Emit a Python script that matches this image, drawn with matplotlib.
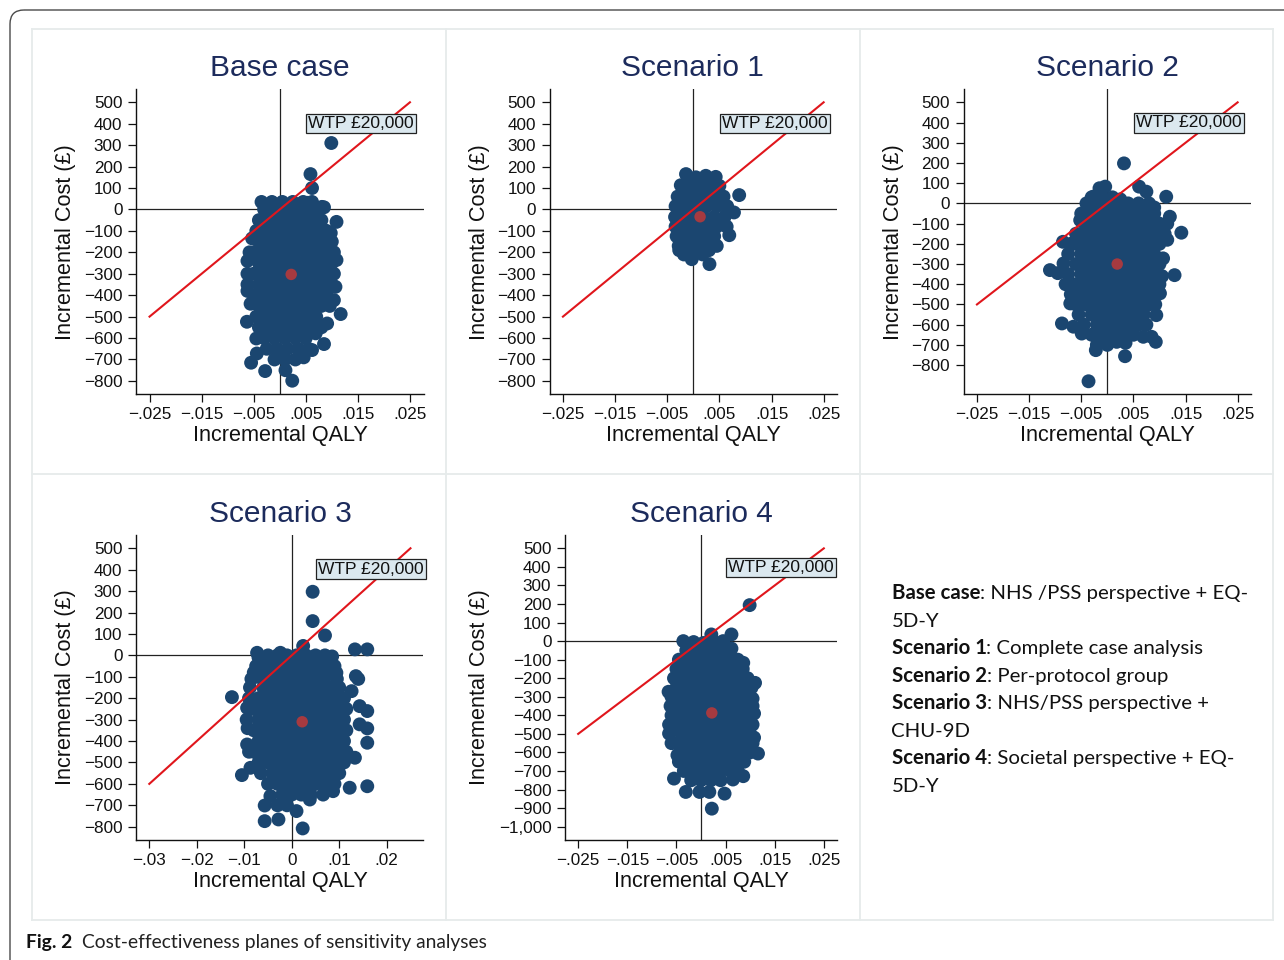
import matplotlib
matplotlib.use("Agg")
import matplotlib.pyplot as plt
from matplotlib.patches import FancyBboxPatch
from matplotlib import font_manager

# ---------------------------------------------------------------- data
titles = ["Base case", "Scenario 1", "Scenario 2", "Scenario 3", "Scenario 4"]

# bootstrap replicates: (incremental QALY in 1/1000, incremental cost in GBP)
base_pts = [
    (9.9, 310), (5.9, 165), (6.2, 100), (5.3, 31), (8.1, 12),
    (-3.5, 35), (-1.5, 35), (0.5, 35), (2.5, 35), (4.5, 35), (6.2, 35),
    (-3, 0), (-1, 0), (1, 0), (3, 0), (5, 0), (7, 0), (8.5, 10),
    (-4, -50), (-2, -50), (0, -50), (2, -50), (4, -50), (6, -50), (8, -50), (10.9, -58),
    (-4.5, -100), (-3, -100), (-1, -100), (1, -100), (3, -100), (5, -100), (7, -100), (9, -100), (9.8, -110),
    (-5.3, -135), (-4, -150), (-2, -150), (0, -150), (2, -150), (4, -150), (6, -150), (8, -150), (10, -150),
    (-5.8, -200), (-5, -200), (-3, -200), (-1, -200), (1, -200), (3, -200), (5, -200), (7, -200), (9, -200), (10.4, -200),
    (-6.2, -240), (-4, -250), (-2, -250), (0, -250), (2, -250), (4, -250), (6, -250), (8, -250), (10, -250), (10.9, -236),
    (-6.2, -300), (-5, -300), (-3, -300), (-1, -300), (1, -300), (3, -300), (5, -300), (7, -300), (9, -300), (10.4, -300),
    (-6.2, -350), (-4, -350), (-2, -350), (0, -350), (2, -350), (4, -350), (6, -350), (8, -350), (10, -350), (10.7, -361),
    (-6.2, -380), (-5, -400), (-3, -400), (-1, -400), (1, -400), (3, -400), (5, -400), (7, -400), (9, -400), (10.4, -423),
    (-5.6, -440), (-4, -450), (-2, -450), (0, -450), (2, -450), (4, -450), (6, -450), (8, -450), (9.6, -450),
    (-4.5, -500), (-3, -500), (-1, -500), (1, -500), (3, -500), (5, -500), (7, -500), (9.1, -532), (11.7, -488), (-6.3, -524),
    (-4, -550), (-2, -550), (0, -550), (2, -550), (4, -550), (6, -550), (8, -550),
    (-4.5, -602), (-3, -600), (-1, -600), (1, -600), (3, -600), (5, -600), (6.9, -578),
    (-2.5, -650), (-0.5, -650), (1.5, -650), (3.5, -650), (5.5, -650), (6.2, -656), (8.5, -628), (-4.4, -672),
    (-1, -700), (1, -700), (3, -700), (4.6, -690), (-0.5, -687), (-5.5, -715),
    (-2.8, -754), (1.1, -750), (2.4, -799),
]

s1_pts = [
    (-1.4, 165), (0.5, 150), (2.4, 157), (4.3, 152),
    (-2.4, 113), (-1, 110), (1, 110), (3, 110), (5, 110),
    (-3, 60), (-2, 60), (0, 60), (2, 60), (4, 60), (5.8, 60), (8.8, 67),
    (-3.4, 15), (-1.5, 15), (0.5, 15), (2.5, 15), (4.5, 15), (6.5, 15),
    (-3.5, -35), (-2, -35), (0, -35), (2, -35), (4, -35), (6, -35), (7.8, -14),
    (-3.4, -80), (-1.5, -80), (0.5, -80), (2.5, -80), (4.5, -80), (6.4, -80),
    (-3.2, -125), (-2, -125), (0, -125), (2, -125), (4, -125), (6.9, -120),
    (-2.8, -170), (-1, -170), (1, -170), (3, -170), (4.5, -170),
    (-2.7, -190), (-1.8, -210), (0, -210), (1.8, -210), (3, -190),
    (-0.3, -232), (3.1, -255),
]

s2_pts = [
    (3.2, 198), (-0.4, 83), (-1.5, 75), (6.1, 83), (7.5, 58), (11.3, 33), (-2.7, 33),
    (-3, 30), (-1, 30), (1, 30), (2.5, 20),
    (-4, 0), (-2, 0), (0, 0), (2, 0), (4, 0), (6, 0), (8, 0), (9, -20),
    (-5, -50), (-3, -50), (-1, -50), (1, -50), (3, -50), (5, -50), (7, -50), (9, -50), (12, -66),
    (-5.2, -83), (-4, -100), (-2, -100), (0, -100), (2, -100), (4, -100), (6, -100), (8, -100), (10, -100), (11.5, -100),
    (-6, -150), (-5, -150), (-3, -150), (-1, -150), (1, -150), (3, -150), (5, -150), (7, -150), (9, -150), (11, -150), (14.2, -145),
    (-8.5, -190), (-7, -200), (-6, -200), (-4, -200), (-2, -200), (0, -200), (2, -200), (4, -200), (6, -200), (8, -200), (10, -200), (11.5, -180),
    (-7.5, -250), (-5, -250), (-3, -250), (-1, -250), (1, -250), (3, -250), (5, -250), (7, -250), (9, -250), (10.7, -272),
    (-8.4, -297), (-6, -300), (-4, -300), (-2, -300), (0, -300), (2, -300), (4, -300), (6, -300), (8, -300), (10, -300),
    (-11, -330), (-9.5, -345), (-7.5, -350), (-5, -350), (-3, -350), (-1, -350), (1, -350), (3, -350), (5, -350), (7, -350), (9, -350), (10.5, -360), (12.9, -355),
    (-8, -400), (-6, -400), (-4, -400), (-2, -400), (0, -400), (2, -400), (4, -400), (6, -400), (8, -400), (10, -400),
    (-7, -450), (-5, -450), (-3, -450), (-1, -450), (1, -450), (3, -450), (5, -450), (7, -450), (9, -450), (10.1, -445),
    (-7.1, -495), (-6, -500), (-4, -500), (-2, -500), (0, -500), (2, -500), (4, -500), (6, -500), (8, -500), (9.2, -500),
    (-5.5, -550), (-3, -550), (-1, -550), (1, -550), (3, -550), (5, -550), (7, -550), (9.4, -553),
    (-8.7, -594), (-6.5, -610), (-4.5, -600), (-2, -600), (0, -600), (2, -600), (4, -600), (6, -600), (7.5, -600),
    (-4.9, -644), (-3, -650), (-1, -650), (1, -650), (3, -650), (5, -650), (6.9, -660), (8.5, -660),
    (-2, -700), (0, -700), (1.8, -685), (3.5, -690), (9.3, -685), (-2.2, -726),
    (3.4, -756), (-3.6, -880),
]

s3_pts = [
    (4.4, 297), (4.4, 160), (7, 93), (2.4, 44), (-7.3, 12), (-2.4, 12), (13.3, 28), (15.9, 28),
    (-7, -10), (-5, 0), (-3, 0), (-1, 0), (1, 0), (3, 0), (5, 0), (7, 0), (8.5, -5),
    (-7.5, -50), (-6, -50), (-4, -50), (-2, -50), (0, -50), (2, -50), (4, -50), (6, -50), (8, -50), (9, -50),
    (-8, -80), (-8.5, -110), (-7, -100), (-5, -100), (-3, -100), (-1, -100), (1, -100), (3, -100), (5, -100), (7, -100),
    (9.4, -81), (9.5, -110), (13.5, -97), (14, -110),
    (-8.8, -150), (-6, -150), (-4, -150), (-2, -150), (0, -150), (2, -150), (4, -150), (6, -150), (8, -150), (10, -150), (12.6, -167),
    (-12.6, -195), (-9, -200), (-7, -200), (-5, -200), (-3, -200), (-1, -200), (1, -200), (3, -200), (5, -200), (7, -200), (9, -200), (11, -200),
    (-9.4, -245), (-8, -250), (-6, -250), (-4, -250), (-2, -250), (0, -250), (2, -250), (4, -250), (6, -250), (8, -250), (10, -250), (11.5, -250), (14.3, -237), (15.9, -260),
    (-9.5, -300), (-7, -300), (-5, -300), (-3, -300), (-1, -300), (1, -300), (3, -300), (5, -300), (7, -300), (9, -300), (11, -300),
    (-9.3, -340), (-8, -350), (-6, -350), (-4, -350), (-2, -350), (0, -350), (2, -350), (4, -350), (6, -350), (8, -350), (10, -350), (11.5, -350), (14.3, -322), (15.9, -341),
    (-9.4, -416), (-7, -400), (-5, -400), (-3, -400), (-1, -400), (1, -400), (3, -400), (5, -400), (7, -400), (9, -400), (11, -400), (15.9, -408),
    (-9, -450), (-8, -450), (-6, -450), (-4, -450), (-2, -450), (0, -450), (2, -450), (4, -450), (6, -450), (8, -450), (10, -450), (11.5, -450), (13.3, -478),
    (-8.7, -525), (-7, -500), (-5, -500), (-3, -500), (-1, -500), (1, -500), (3, -500), (5, -500), (7, -500), (9, -500), (11, -500),
    (-10.5, -559), (-6.5, -550), (-4, -550), (-2, -550), (0, -550), (2, -550), (4, -550), (6, -550), (8, -550), (10, -550),
    (-5, -600), (-3, -600), (-1, -600), (1, -600), (3, -600), (5, -600), (7, -600), (9, -600), (12.2, -618), (15.9, -611), (8.7, -634),
    (-4.5, -657), (-2, -650), (0, -650), (2, -650), (4, -650), (6.6, -650),
    (-5.7, -701), (-3, -700), (-1, -700), (1, -727), (3.8, -673),
    (-2.8, -766), (-5.7, -774), (2.3, -808),
]

s4_pts = [
    (9.9, 194), (2.1, 36), (6.2, 36), (-3.6, 0),
    (-1.5, -5), (0.5, -10), (2.5, 0), (4.5, 0),
    (-3, -50), (-1, -50), (1, -50), (3, -50), (5, -50), (6.2, -40),
    (-4.5, -100), (-2, -100), (0, -100), (2, -100), (4, -100), (6, -100), (7.5, -100), (8.6, -117),
    (-5, -150), (-3, -150), (-1, -150), (1, -150), (3, -150), (5, -150), (7, -150), (8.5, -150),
    (-5.5, -200), (-4, -200), (-2, -200), (0, -200), (2, -200), (4, -200), (6, -200), (8, -200), (9.5, -200), (11, -225),
    (-6.6, -273), (-5, -250), (-3, -250), (-1, -250), (1, -250), (3, -250), (5, -250), (7, -250), (9, -250), (10.3, -250),
    (-6, -300), (-4, -300), (-2, -300), (0, -300), (2, -300), (4, -300), (6, -300), (8, -300), (10, -300), (10.5, -310),
    (-6.2, -350), (-5, -350), (-3, -350), (-1, -350), (1, -350), (3, -350), (5, -350), (7, -350), (9, -350), (10.5, -350),
    (-6, -400), (-4, -400), (-2, -400), (0, -400), (2, -400), (4, -400), (6, -400), (8, -400), (10, -400), (10.8, -390),
    (-6.5, -450), (-5, -450), (-3, -450), (-1, -450), (1, -450), (3, -450), (5, -450), (7, -450), (9, -450), (10.5, -450),
    (-6.5, -498), (-4, -500), (-2, -500), (0, -500), (2, -500), (4, -500), (6, -500), (8, -500), (10, -500), (10.8, -520),
    (-6, -550), (-5, -550), (-3, -550), (-1, -550), (1, -550), (3, -550), (5, -550), (7, -550), (9, -550), (10.5, -550),
    (-4.8, -615), (-4, -600), (-2, -600), (0, -600), (2, -600), (4, -600), (6, -600), (8, -600), (10, -600), (11.6, -606),
    (-4.5, -650), (-3, -650), (-1, -650), (1, -650), (3, -650), (5, -650), (7, -650), (8.8, -650),
    (-3.5, -700), (-2, -700), (0, -700), (2, -700), (4, -700), (6, -700), (7.5, -700),
    (-5.5, -741), (-2, -750), (0, -750), (2, -750), (4, -750), (6.5, -746), (8.6, -728),
    (-3.1, -813), (-0.3, -813), (1.7, -813), (4.8, -822),
    (2.2, -903),
]

# mean incremental QALY (1/1000) and cost per plane
mean_pts = [(2.2, -303), (1.3, -34), (1.9, -300), (2.2, -310), (2.2, -387)]

wtp = 20000
wtp_label = "WTP £20,000"
wtp_line_x = [(-0.025, 0.025), (-0.025, 0.025), (-0.025, 0.025), (-0.03, 0.025), (-0.025, 0.025)]
wtp_label_pos = [(0.0156, 400), (0.0156, 400), (0.0156, 398), (0.0167, 403), (0.0163, 399)]

yticks_std = [500, 400, 300, 200, 100, 0, -100, -200, -300, -400, -500, -600, -700, -800]
yticks_s4 = yticks_std + [-900, -1000]
xticks_std = [-0.025, -0.015, -0.005, 0.005, 0.015, 0.025]
xlabels_std = ["\u2212.025", "\u2212.015", "\u2212.005", ".005", ".015", ".025"]
xticks_s3 = [-0.03, -0.02, -0.01, 0, 0.01, 0.02]
xlabels_s3 = ["\u2212.03", "\u2212.02", "\u2212.01", "0", ".01", ".02"]

legend_lines = [
    ("Base case", ": NHS /PSS perspective + EQ-"),
    ("", "5D-Y"),
    ("Scenario 1", ": Complete case analysis"),
    ("Scenario 2", ": Per-protocol group"),
    ("Scenario 3", ": NHS/PSS perspective +"),
    ("", "CHU-9D"),
    ("Scenario 4", ": Societal perspective + EQ-"),
    ("", "5D-Y"),
]
caption_bold = "Fig. 2"
caption_text = "Cost-effectiveness planes of sensitivity analyses"

all_pts = [base_pts, s1_pts, s2_pts, s3_pts, s4_pts]

# ---------------------------------------------------------------- layout (pixels)
W, H = 1284, 960
panel_px = [  # left, top, right, bottom of plot region
    (136, 89, 424, 394),
    (549.7, 89, 837, 394),
    (963.7, 89, 1251, 394),
    (136, 535, 423.3, 840),
    (565, 535, 837, 840),
]
xlims = [(-0.0276, 0.0277), (-0.02754, 0.02756), (-0.02754, 0.02756), (-0.0328, 0.0277), (-0.02768, 0.02768)]
ylims = [(-861, 562), (-861, 562), (-943, 566), (-862, 562), (-1072, 572)]
title_px = [(280, 68), (692, 68), (1107, 68), (280, 514), (701, 514)]
xlab_px = [(280, 436), (693, 436), (1107, 436), (280, 881), (701, 881)]
ylab_px = [(65, 242), (479, 242), (893, 242), (65, 687), (479, 687)]

def font_available(name):
    try:
        font_manager.findfont(font_manager.FontProperties(family=name), fallback_to_default=False)
        return True
    except Exception:
        return False

STATA = ["Liberation Sans", "DejaVu Sans"]
LEG = ["Lato", "DejaVu Sans"]
CAP = ["Liberation Sans Narrow", "Lato", "DejaVu Sans"] if font_available("Liberation Sans Narrow") else ["Lato", "DejaVu Sans"]

DOT = "#1b4670"
MEAN = "#a63a40"
RED = "#e0161c"
NAVY = "#1c2b5c"

fig = plt.figure(figsize=(W / 100, H / 100), dpi=100)
fig.patch.set_facecolor("white")

bg = fig.add_axes([0, 0, 1, 1], zorder=0)
bg.set_xlim(0, W)
bg.set_ylim(H, 0)
bg.axis("off")

# outer rounded frame (only top and left edge inside the picture)
bg.add_patch(FancyBboxPatch((10, 10), 1400, 1100, boxstyle="round,pad=0,rounding_size=14",
                            fill=False, ec="#4a4a4a", lw=1.0))
# light panel grid
GRID = "#e6ebeb"
for x in (32, 446, 860, 1273):
    bg.plot([x, x], [29, 920], color=GRID, lw=1.3)
for y in (29, 474, 920):
    bg.plot([32, 1273], [y, y], color=GRID, lw=1.3)

for i, pts in enumerate(all_pts):
    l, t, r, b = panel_px[i]
    ax = fig.add_axes([l / W, 1 - b / H, (r - l) / W, (b - t) / H], zorder=2)
    ax.set_facecolor("none")
    ax.set_xlim(*xlims[i])
    ax.set_ylim(*ylims[i])
    for s in ("top", "right"):
        ax.spines[s].set_visible(False)
    for s in ("left", "bottom"):
        ax.spines[s].set_linewidth(1.0)
        ax.spines[s].set_color("#111111")
    ax.axhline(0, color="#222222", lw=0.9, zorder=1)
    ax.axvline(0, color="#222222", lw=0.9, zorder=1)

    xs = [p[0] / 1000 for p in pts]
    ys = [p[1] for p in pts]
    ax.scatter(xs, ys, s=100, color=DOT, edgecolors="none", zorder=2)

    x0, x1 = wtp_line_x[i]
    ax.plot([x0, x1], [wtp * x0, wtp * x1], color=RED, lw=1.5, zorder=3)
    mx, my = mean_pts[i]
    ax.scatter([mx / 1000], [my], s=68, color=MEAN, edgecolors="none", zorder=4)

    lx, ly = wtp_label_pos[i]
    ax.text(lx, ly, wtp_label, ha="center", va="center", fontsize=12.5, family=STATA,
            color="#111111", zorder=5,
            bbox=dict(boxstyle="square,pad=0.12", fc="#dbe8ef", ec="#222222", lw=0.9))

    yt = yticks_s4 if i == 4 else yticks_std
    ax.set_yticks(yt)
    ax.set_yticklabels([f"{v:,}".replace("-", "\u2212") for v in yt], family=STATA)
    if i == 3:
        ax.set_xticks(xticks_s3)
        ax.set_xticklabels(xlabels_s3, family=STATA)
    else:
        ax.set_xticks(xticks_std)
        ax.set_xticklabels(xlabels_std, family=STATA)
    ax.tick_params(axis="both", direction="out", length=5.5, width=0.9, labelsize=12.3,
                   color="#111111", labelcolor="#111111")
    ax.tick_params(axis="y", pad=4.3)
    ax.tick_params(axis="x", pad=4)

    tx, ty = title_px[i]
    bg.text(tx, ty, titles[i], ha="center", va="center", fontsize=21.5, color=NAVY, family=STATA)
    xx, xy = xlab_px[i]
    bg.text(xx, xy, "Incremental QALY", ha="center", va="center", fontsize=15.6, color="#111111", family=STATA)
    yx, yy = ylab_px[i]
    bg.text(yx, yy, "Incremental Cost (£)", ha="center", va="center", rotation=90, fontsize=15.6,
            color="#111111", family=STATA)

# ---------------------------------------------------------------- legend text (fit widths)
renderer = fig.canvas.get_renderer()

def width_px(s, **kw):
    t = bg.text(0, 0, s, **kw)
    w = t.get_window_extent(renderer).width
    t.remove()
    return w

ref_size = 14
w_ref = width_px(legend_lines[0][0], fontsize=ref_size, family=LEG, weight="bold") + \
        width_px(legend_lines[0][1], fontsize=ref_size, family=LEG)
leg_size = ref_size * 358.0 / w_ref
leg_base = [599.3, 626.8, 654.3, 681.8, 709.3, 736.8, 764.3, 791.8]
for (bold, rest), yb in zip(legend_lines, leg_base):
    x = 891.5
    if bold:
        bg.text(x, yb, bold, fontsize=leg_size, family=LEG, weight="bold", va="baseline", ha="left", color="#111111")
        x += width_px(bold, fontsize=leg_size, family=LEG, weight="bold")
    bg.text(x, yb, rest, fontsize=leg_size, family=LEG, va="baseline", ha="left", color="#111111")

# caption
cap_ref = 13
w_cap = width_px(caption_bold + "  ", fontsize=cap_ref, family=CAP, weight="bold") + \
        width_px(caption_text, fontsize=cap_ref, family=CAP)
cap_size = cap_ref * 461.0 / w_cap
x = 26
bg.text(x, 948, caption_bold, fontsize=cap_size, family=CAP, weight="bold", va="baseline", ha="left", color="#111111")
x += width_px(caption_bold + "  ", fontsize=cap_size, family=CAP, weight="bold")
bg.text(x, 948, caption_text, fontsize=cap_size, family=CAP, va="baseline", ha="left", color="#222222")

fig.savefig("out.png", dpi=100, facecolor="white")
